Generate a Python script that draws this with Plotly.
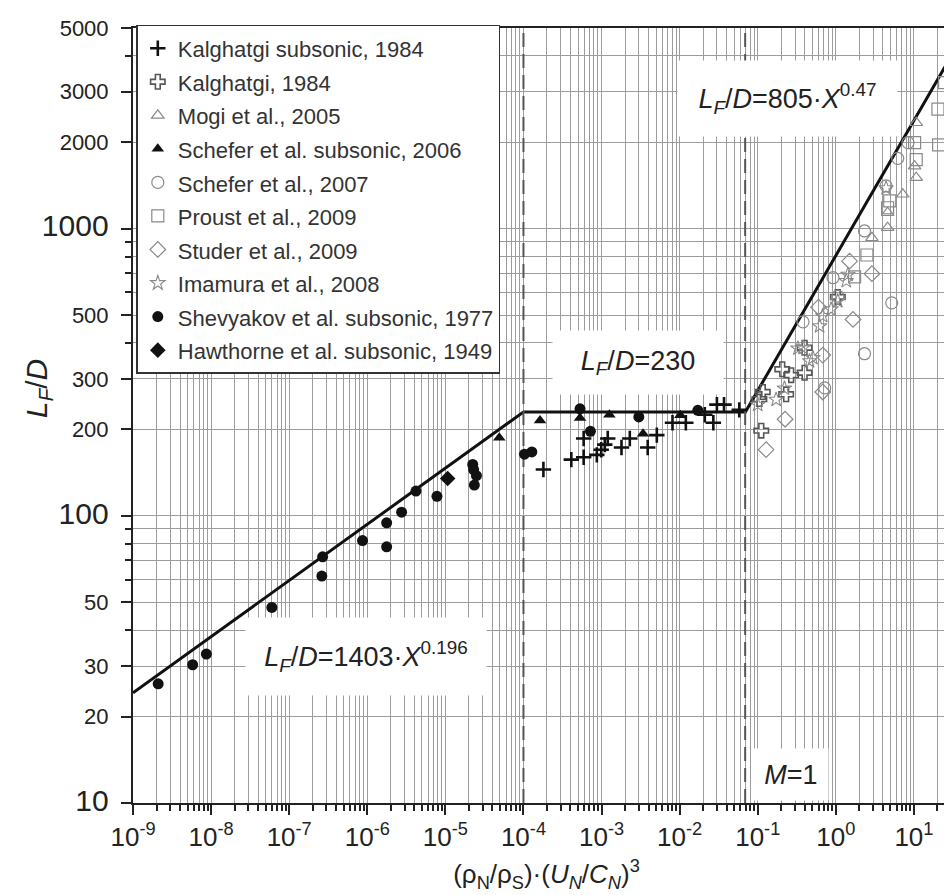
import plotly.graph_objects as go
import math

# ---------------- data ----------------
kal_sub_x = [1.8e-4, 4.1e-4, 5.9e-4, 8.7e-4, 9.9e-4, 1.1e-3, 1.2e-3, 5.9e-4, 1.8e-3, 2.3e-3,
             3.9e-3, 5.1e-3, 8.1e-3, 1.2e-2, 2.1e-2, 2.7e-2, 3.0e-2, 3.7e-2, 5.8e-2]
kal_sub_y = [145, 157, 160, 163, 170, 177, 186, 186, 173, 186,
             173, 191, 211, 211, 225, 211, 244, 244, 234]

kal_x = [0.105, 0.111, 0.116, 0.231, 0.206, 0.268, 0.398, 0.398, 1.06]
kal_y = [255, 198, 270, 265, 324, 309, 315, 385, 578]

mogi_x = [10.7, 10.2, 10.7, 7.2, 4.6, 4.6, 2.9]
mogi_y = [2339, 1652, 1506, 1318, 1137, 1008, 930]

schefer_sub_x = [4.9e-5, 1.63e-4, 5.3e-4, 1.26e-3, 3.4e-3, 1.02e-2]
schefer_sub_y = [187, 215, 219, 225, 193, 224]

schefer07_x = [0.38, 0.72, 2.33, 5.2, 0.92, 1.06, 2.33, 4.4, 6.2, 8.4]
schefer07_y = [474, 279, 367, 552, 675, 582, 982, 1410, 1758, 1995]

proust_x = [24.7, 20.3, 20.7, 10.2, 10.7, 4.9, 4.6, 2.5, 1.74]
proust_y = [3228, 2607, 1958, 1995, 1741, 1250, 1183, 810, 680]

studer_x = [0.128, 0.224, 0.68, 0.68, 1.66, 1.5, 2.9, 0.60]
studer_y = [170, 217, 363, 270, 483, 771, 697, 533]

imamura_x = [0.1, 0.172, 0.22, 0.327, 0.508, 0.62, 0.68, 0.87, 1.06, 1.36, 1.43, 0.46, 0.38, 4.4]
imamura_y = [244, 254, 278, 383, 355, 458, 497, 524, 560, 658, 692, 346, 385, 1385]

shev_x = [2.1e-9, 5.8e-9, 8.7e-9, 6.0e-8, 2.68e-7, 2.62e-7, 8.7e-7, 1.77e-6, 1.77e-6, 2.75e-6,
          4.2e-6, 7.8e-6, 2.24e-5, 2.3e-5, 2.5e-5, 2.35e-5, 1.03e-4, 1.28e-4, 5.3e-4, 7.2e-4,
          3.0e-3, 1.71e-2]
shev_y = [26, 30.3, 33, 48, 72, 61.7, 82, 94.6, 78, 103,
          122, 117, 151, 145, 138, 128, 164, 167, 236, 197,
          221, 233]

haw_x = [1.07e-5]
haw_y = [135]

# fitted correlation (piecewise power law), breakpoints
fit_x = [1e-9, 1.0e-4, 0.0695, 30]
fit_y = [24.2, 230, 230, 3990]

# vertical dashed reference lines (X at L/D=230 onset, M=1)
ref_x = [1.0e-4, 0.069]

y_ticks = [10, 20, 30, 50, 100, 200, 300, 500, 1000, 2000, 3000, 5000]
y_big = [10, 100, 1000]
x_exps = list(range(-9, 2))

# ---------------- figure ----------------
BLACK = "#111111"
GRAY = "#8a8a8a"
DGRAY = "#555555"

fig = go.Figure()

fig.add_trace(go.Scatter(x=fit_x, y=fit_y, mode="lines",
                         line=dict(color=BLACK, width=3), showlegend=False, hoverinfo="skip"))
for rx in ref_x:
    fig.add_trace(go.Scatter(x=[rx, rx], y=[10, 5000], mode="lines",
                             line=dict(color=DGRAY, width=2, dash="14px,7px"),
                             showlegend=False, hoverinfo="skip"))

def sc(x, y, name, symbol, color, size, lw, lcolor=None):
    fig.add_trace(go.Scatter(
        x=x, y=y, mode="markers",
        name="<span style='font-size:22px'>%s</span>" % name,
        marker=dict(symbol=symbol, color=color, size=size,
                    line=dict(width=lw, color=lcolor or color))))

sc(kal_sub_x, kal_sub_y, "Kalghatgi subsonic, 1984", "cross-thin", BLACK, 11, 2.6, BLACK)
sc(kal_x, kal_y, "Kalghatgi, 1984", "cross-open", DGRAY, 12, 1.6)
sc(mogi_x, mogi_y, "Mogi et al., 2005", "triangle-up-open", GRAY, 11, 1.2)
sc(schefer_sub_x, schefer_sub_y, "Schefer et al. subsonic, 2006", "triangle-up", BLACK, 11, 0)
sc(schefer07_x, schefer07_y, "Schefer et al., 2007", "circle-open", GRAY, 12, 1.2)
sc(proust_x, proust_y, "Proust et al., 2009", "square-open", GRAY, 12, 1.2)
sc(studer_x, studer_y, "Studer et al., 2009", "diamond-open", GRAY, 12, 1.2)
sc(imamura_x, imamura_y, "Imamura et al., 2008", "star-open", GRAY, 11, 1.1)
sc(shev_x, shev_y, "Shevyakov et al. subsonic, 1977", "circle", BLACK, 11, 0)
sc(haw_x, haw_y, "Hawthorne et al. subsonic, 1949", "diamond", BLACK, 12, 0)

# ticks
y_text = []
for v in y_ticks:
    if v in y_big:
        y_text.append("<span style='font-size:30px'>%d</span>" % v)
    else:
        y_text.append(str(v))
y_minor = [k * 10 ** n for n in range(1, 4) for k in range(2, 10)
           if k * 10 ** n not in y_ticks and k * 10 ** n < 5000] + [4000]

x_vals = [10.0 ** e for e in x_exps]
x_text = ["10<sup>%d</sup>" % e for e in x_exps]
x_minor = [k * 10.0 ** n for n in range(-9, 2) for k in range(2, 10) if k * 10.0 ** n < 39]

GRID = "#9c9c9c"
fig.update_xaxes(type="log", range=[-9, 1.59],
                 tickmode="array", tickvals=x_vals, ticktext=x_text,
                 tickfont=dict(size=26, color="#222"),
                 ticks="outside", ticklen=10, tickwidth=1.5, tickcolor="#222",
                 showgrid=True, gridcolor=GRID, gridwidth=1,
                 minor=dict(tickmode="array", tickvals=x_minor, ticks="outside", ticklen=6,
                            tickcolor="#222", showgrid=True, gridcolor=GRID, gridwidth=1),
                 showline=True, linecolor="#222", linewidth=2, mirror=True,
                 zeroline=False,
                 title=dict(text="(ρ<sub>N</sub>/ρ<sub>S</sub>)·(<i>U</i><sub><i>N</i></sub>/<i>C</i><sub><i>N</i></sub>)<sup>3</sup>",
                            font=dict(size=26, color="#222"), standoff=14))
fig.update_yaxes(type="log", range=[1, math.log10(5000)],
                 tickmode="array", tickvals=y_ticks, ticktext=y_text,
                 tickfont=dict(size=22, color="#222"),
                 ticks="outside", ticklen=10, tickwidth=1.5, tickcolor="#222",
                 ticklabelstandoff=8,
                 showgrid=True, gridcolor=GRID, gridwidth=1,
                 minor=dict(tickmode="array", tickvals=y_minor, ticks="outside", ticklen=6,
                            tickcolor="#222", showgrid=True, gridcolor=GRID, gridwidth=1),
                 showline=True, linecolor="#222", linewidth=2, mirror=False,
                 zeroline=False)

ann_font = dict(family="Liberation Sans, Arial, sans-serif", size=27, color="#222")
boxes = [
    ("<i>L</i><sub><i>F</i></sub>/<i>D</i>=805·<i>X</i><sup>0.47</sup>", -0.62, 3.455, 219, 75),
    ("<i>L</i><sub><i>F</i></sub>/<i>D</i>=230", -2.53, 2.535, 170, 63),
    ("<i>L</i><sub><i>F</i></sub>/<i>D</i>=1403·<i>X</i><sup>0.196</sup>", -6.02, 1.51, 240, 77),
    ("<i>M</i>=1", -0.58, 1.10, 74, 51),
]
for txt, ax_, ay_, w, h in boxes:
    fig.add_annotation(x=ax_, y=ay_, xref="x", yref="y", text=txt, showarrow=False,
                       font=ann_font, bgcolor="white", width=w, height=h, borderpad=0,
                       xanchor="center", yanchor="middle")

fig.add_annotation(x=-0.115, y=0.535, xref="paper", yref="paper",
                   text="<i>L</i><sub><i>F</i></sub>/<i>D</i>", textangle=-90, showarrow=False,
                   font=dict(size=30, color="#222"), xanchor="center", yanchor="middle")

fig.update_layout(
    width=952, height=895,
    margin=dict(l=125, r=0, t=20, b=100),
    paper_bgcolor="white", plot_bgcolor="white",
    font=dict(family="Liberation Sans, Arial, sans-serif", color="#222"),
    legend=dict(x=0.004, y=1.004, xanchor="left", yanchor="top",
                bgcolor="white", bordercolor="#333", borderwidth=1.5,
                font=dict(size=23.5, color="#333"), tracegroupgap=0),
)

fig.write_html("out.html")
